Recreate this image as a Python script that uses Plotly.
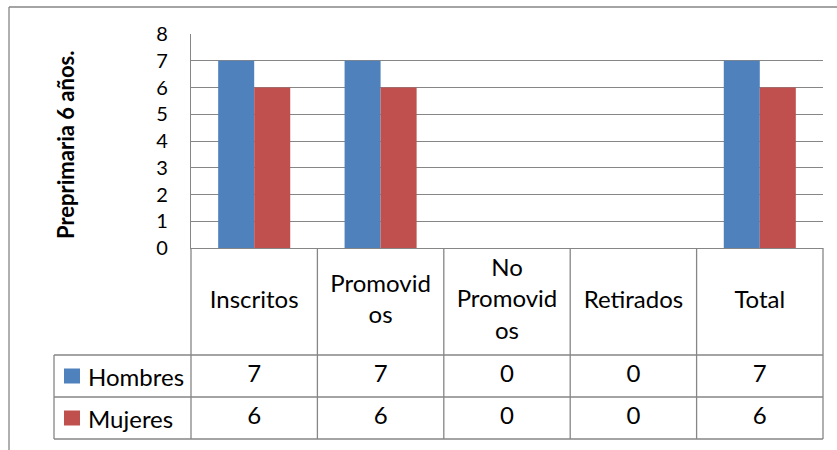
import plotly.graph_objects as go

# ---- data ----
categories = ["Inscritos", "Promovidos", "No Promovidos", "Retirados", "Total"]
header_labels = ["Inscritos", "Promovid<br>os", "No<br>Promovid<br>os", "Retirados", "Total"]
series_names = ["Hombres", "Mujeres"]
hombres = [7, 7, 0, 0, 7]
mujeres = [6, 6, 0, 0, 6]
y_ticks = [0, 1, 2, 3, 4, 5, 6, 7, 8]
axis_title = "Preprimaria 6 años."

# ---- styling ----
colors = ["#4F81BD", "#C0504D"]
grid_col = "#868686"
FONT = "Lato"
TABLE_SIZE = 24
TICK_SIZE = 20

W, H = 837, 450
L, R, T, B = 191, 14, 34, 11
PW = W - L - R
PH = H - T - B


def px(xpix):
    return (xpix - L) / PW


def py(ypix):
    return (H - B - ypix) / PH


split = py(248)
table_h = (H - B) - 248
row_bounds = [355, 397]
header_c = (H - B) - (248 + 355) / 2
hom_c = (H - B) - (355 + 397) / 2
muj_c = (H - B) - (397 + 439) / 2

fig = go.Figure()
for name, vals, c in zip(series_names, [hombres, mujeres], colors):
    fig.add_trace(go.Bar(x=categories, y=vals, name=name, marker=dict(color=c, line=dict(width=0)),
                         showlegend=False, xaxis="x", yaxis="y"))

tf = dict(family=FONT, size=TABLE_SIZE, color="#000000")
fig.add_trace(go.Scatter(x=categories, y=[header_c] * len(categories), text=header_labels,
                         mode="text", textposition="middle center", textfont=tf,
                         showlegend=False, hoverinfo="skip", cliponaxis=False, xaxis="x", yaxis="y2"))
for vals, yc in zip([hombres, mujeres], [hom_c, muj_c]):
    fig.add_trace(go.Scatter(x=categories, y=[yc] * len(categories), text=[str(v) for v in vals],
                             mode="text", textposition="middle center", textfont=tf,
                             showlegend=False, hoverinfo="skip", cliponaxis=False, xaxis="x", yaxis="y2"))

shapes = []
lw = 1.3
# outer chart border (left and top)
shapes.append(dict(type="line", xref="paper", yref="paper", x0=px(9), x1=px(840), y0=py(7), y1=py(7),
                   line=dict(color=grid_col, width=lw)))
shapes.append(dict(type="line", xref="paper", yref="paper", x0=px(9), x1=px(9), y0=py(7), y1=py(452),
                   line=dict(color=grid_col, width=lw)))
for yp in row_bounds + [439]:
    shapes.append(dict(type="line", xref="paper", yref="paper", x0=px(54), x1=1, y0=py(yp), y1=py(yp),
                       line=dict(color=grid_col, width=lw)))
n = len(categories)
for i in range(n + 1):
    shapes.append(dict(type="line", xref="paper", yref="paper", x0=i / n, x1=i / n, y0=py(439), y1=split,
                       line=dict(color=grid_col, width=lw)))
shapes.append(dict(type="line", xref="paper", yref="paper", x0=px(54), x1=px(54), y0=py(439), y1=py(355),
                   line=dict(color=grid_col, width=lw)))
annotations = []
for name, c, yc in zip(series_names, colors, [376, 418]):
    shapes.append(dict(type="rect", xref="paper", yref="paper", x0=px(64), x1=px(80),
                       y0=py(yc + 7.5), y1=py(yc - 7.5), line=dict(width=0), fillcolor=c))
    annotations.append(dict(xref="paper", yref="paper", x=px(86), y=py(yc), text=name, showarrow=False,
                            xanchor="left", yanchor="middle", font=tf))

annotations.append(dict(xref="paper", yref="paper", x=px(65), y=py(145), text="<b>" + axis_title + "</b>",
                        textangle=-90, showarrow=False, xanchor="center", yanchor="middle",
                        font=dict(family=FONT, size=22, color="#000000")))

fig.update_layout(
    width=W, height=H,
    margin=dict(l=L, r=R, t=T, b=B, pad=0, autoexpand=False),
    paper_bgcolor="white", plot_bgcolor="white",
    showlegend=False,
    barmode="group", bargap=0.43, bargroupgap=0,
    font=dict(family=FONT, color="#000000"),
    xaxis=dict(type="category", range=[-0.5, n - 0.5], showticklabels=False, ticks="",
               showgrid=False, zeroline=False, showline=True, linecolor=grid_col, linewidth=lw,
               anchor="y", fixedrange=True, automargin=False),
    yaxis=dict(domain=[split, 1], range=[0, 8], tickvals=y_ticks, showgrid=True, gridcolor=grid_col,
               gridwidth=lw, zeroline=False, showline=True, linecolor=grid_col, linewidth=lw,
               ticks="", ticklabelstandoff=18, tickfont=dict(family=FONT, size=TICK_SIZE, color="#000000"),
               anchor="x", automargin=False, fixedrange=True),
    yaxis2=dict(domain=[0, split], range=[0, table_h], visible=False, anchor="x", automargin=False,
                fixedrange=True),
    shapes=shapes,
    annotations=annotations,
)

fig.write_html("out.html", post_script="document.body.style.margin='0px';",
               config={"displayModeBar": False})
